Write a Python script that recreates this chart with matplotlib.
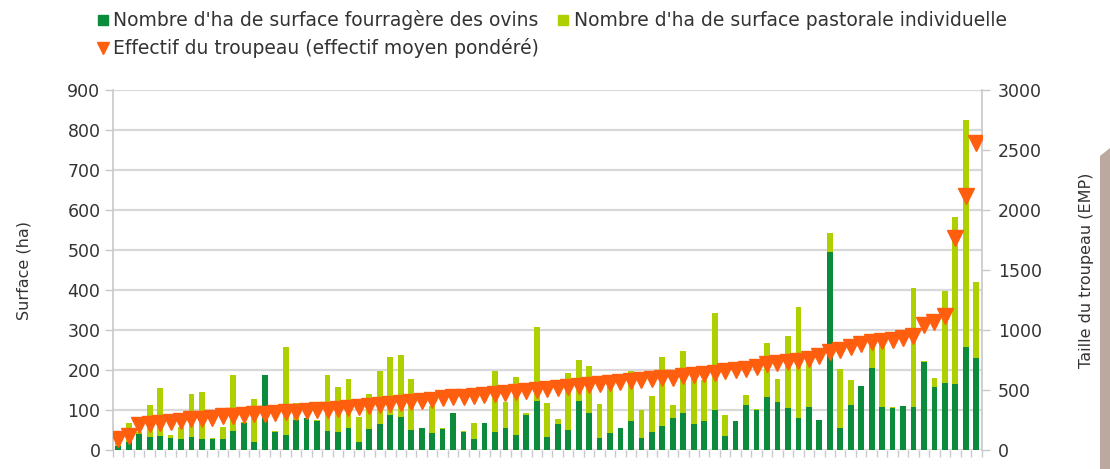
import matplotlib
matplotlib.use("Agg")
import matplotlib.pyplot as plt
import numpy as np
from matplotlib.lines import Line2D
from matplotlib.patches import Polygon

plt.rcParams['font.family'] = ['DejaVu Sans']

# Surface fourragère des ovins (ha) - dark green
fourragere = [10, 21, 39, 32, 35, 31, 27, 33, 27, 27, 27, 48, 68, 21, 187, 46, 37, 75, 79, 72,
              48, 44, 54, 21, 52, 65, 87, 83, 50, 54, 43, 52, 93, 46, 27, 67, 46, 54, 37, 87,
              122, 33, 65, 49, 122, 93, 29, 43, 54, 73, 29, 46, 60, 79, 92, 66, 73, 101, 34, 72,
              112, 101, 132, 121, 104, 79, 108, 75, 496, 54, 112, 160, 204, 108, 106, 110, 107, 221, 157, 167,
              165, 258, 229]
# Surface pastorale individuelle (ha) - light green, stacked
pastorale = [10, 47, 6, 80, 121, 7, 31, 106, 118, 3, 31, 139, 2, 106, 0, 2, 221, 42, 1, 3,
             139, 114, 123, 61, 88, 133, 145, 154, 127, 2, 67, 2, 0, 2, 41, 1, 152, 67, 146, 5,
             186, 84, 12, 144, 103, 118, 87, 117, 1, 125, 70, 88, 172, 33, 156, 114, 102, 241, 54, 1,
             26, 1, 136, 56, 181, 279, 117, 1, 46, 148, 63, 1, 66, 172, 1, 1, 297, 1, 22, 231,
             418, 567, 192]
# Effectif du troupeau (EMP) - right axis
troupeau = [92, 120, 205, 215, 225, 235, 245, 255, 262, 270, 280, 285, 290, 296, 302, 308, 313, 318, 324, 330,
            336, 340, 350, 358, 366, 375, 384, 393, 402, 410, 420, 430, 438, 445, 452, 460, 468, 476, 484, 492,
            502, 512, 519, 526, 533, 540, 548, 556, 564, 572, 580, 588, 596, 604, 614, 624, 634, 645, 656, 666,
            676, 688, 715, 728, 735, 745, 760, 780, 815, 830, 855, 880, 900, 910, 920, 935, 950, 1040, 1068,
            1115, 1770, 2115, 2555]

left_ticks = [0, 100, 200, 300, 400, 500, 600, 700, 800, 900]
right_ticks = [0, 500, 1000, 1500, 2000, 2500, 3000]

label_dark = "Nombre d'ha de surface fourragère des ovins"
label_light = "Nombre d'ha de surface pastorale individuelle"
label_tri = "Effectif du troupeau (effectif moyen pondéré)"

c_dark = '#0b8c3c'
c_light = '#aed000'
c_orange = '#ff5e0e'
c_grid = '#d8d8d8'
c_text = '#333333'

W, H = 1110, 469
fig = plt.figure(figsize=(W / 100, H / 100), dpi=100)
ax = fig.add_axes([113 / W, 1 - 450 / H, (981.5 - 113) / W, (450 - 90) / H])

n = len(fourragere)
x = np.arange(n)
ax.bar(x, fourragere, width=0.55, color=c_dark, zorder=2)
ax.bar(x, pastorale, width=0.55, bottom=fourragere, color=c_light, zorder=2)

ax.set_xlim(-0.5, n - 0.5)
ax.set_ylim(0, 900)
ax.set_yticks(left_ticks)
ax.grid(axis='y', color=c_grid, lw=1.6, zorder=0)
ax.set_xticks(np.arange(n + 1) - 0.5)
ax.set_xticklabels([])
ax.tick_params(axis='x', length=5, color='#c8c8c8', width=1)
ax.tick_params(axis='y', length=6, color='#c8c8c8', width=1, labelsize=12.5, labelcolor=c_text, pad=3)
for s in ['top', 'right', 'bottom']:
    ax.spines[s].set_visible(False)
ax.spines['left'].set_color('#c8c8c8')
ax.spines['left'].set_linewidth(1.2)

ax2 = ax.twinx()
ax2.plot(x, troupeau, linestyle='none', marker='v', ms=11, color=c_orange, mec=c_orange, zorder=3)
ax2.set_ylim(0, 3000)
ax2.set_yticks(right_ticks)
ax2.tick_params(axis='y', length=6, color='#c8c8c8', width=1, labelsize=12.5, labelcolor=c_text, pad=6)
for s in ['top', 'left', 'bottom']:
    ax2.spines[s].set_visible(False)
ax2.spines['right'].set_color('#c8c8c8')
ax2.spines['right'].set_linewidth(1.2)

# Axis titles
fig.text(24 / W, 1 - 270 / H, 'Surface (ha)', fontsize=11.5, color=c_text,
         rotation=90, ha='center', va='center')
fig.text(1087 / W, 1 - 270 / H, 'Taille du troupeau (EMP)', fontsize=11.5, color=c_text,
         rotation=90, ha='center', va='center')

# Legend (manual)
fs_leg = 13.5
y1 = 1 - 20 / H
y2 = 1 - 48 / H
fig.add_artist(Line2D([103 / W], [y1], marker='s', ms=7, color=c_dark, transform=fig.transFigure))
fig.text(113 / W, y1, label_dark, fontsize=fs_leg, color=c_text, va='center', ha='left')
fig.add_artist(Line2D([563 / W], [y1], marker='s', ms=7, color=c_light, transform=fig.transFigure))
fig.text(574 / W, y1, label_light, fontsize=fs_leg, color=c_text, va='center', ha='left')
fig.add_artist(Line2D([103 / W], [y2], marker='v', ms=8, color=c_orange, transform=fig.transFigure))
fig.text(113 / W, y2, label_tri, fontsize=fs_leg, color=c_text, va='center', ha='left')

# brownish strip at right edge
fig.add_artist(Polygon([(1100 / W, 1 - 156 / H), (1110 / W, 1 - 148 / H), (1110 / W, 0), (1100 / W, 0)],
                       closed=True, transform=fig.transFigure, color='#bba89f', lw=0))

fig.savefig('out.png', dpi=100)
